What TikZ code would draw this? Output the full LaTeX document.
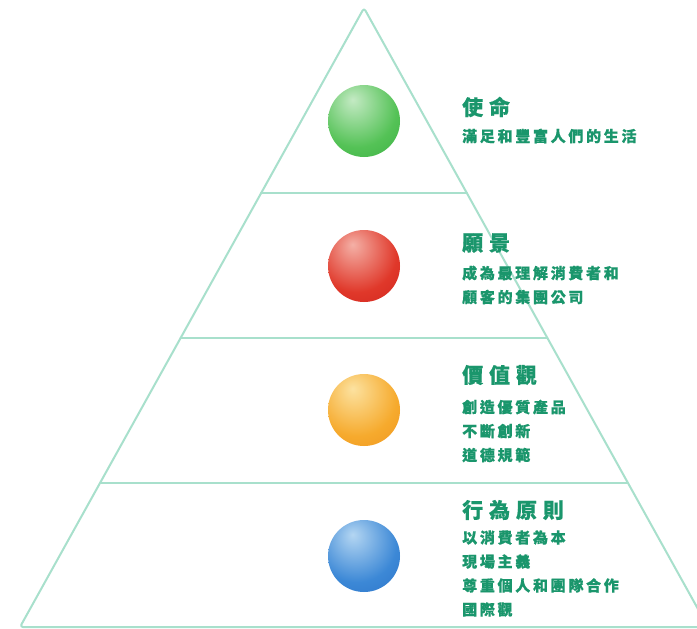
\documentclass[tikz,border=0pt]{standalone}
\usepackage{fontspec}
\newfontfamily\cjkttl[LetterSpace=28, BoldFeatures={FakeBold=0.5}]{Noto Sans CJK TC}
\newfontfamily\cjkbody[LetterSpace=18, BoldFeatures={FakeBold=0.6}]{Noto Sans CJK TC}
\usetikzlibrary{calc}
\definecolor{edgec}{RGB}{168,224,204}
\definecolor{txtc}{RGB}{26,150,108}
\definecolor{gHi}{RGB}{196,234,196}\definecolor{gMid}{RGB}{84,194,86}\definecolor{gEdge}{RGB}{36,158,50}
\definecolor{rHi}{RGB}{244,176,166}\definecolor{rMid}{RGB}{224,56,42}\definecolor{rEdge}{RGB}{192,18,18}
\definecolor{oHi}{RGB}{252,226,160}\definecolor{oMid}{RGB}{246,170,45}\definecolor{oEdge}{RGB}{232,128,18}
\definecolor{bHi}{RGB}{180,214,242}\definecolor{bMid}{RGB}{60,136,214}\definecolor{bEdge}{RGB}{28,96,188}
\pgfdeclareradialshading{sphgreen}{\pgfpoint{-8bp}{15bp}}{color(0bp)=(gHi); color(28bp)=(gMid); color(62bp)=(gEdge); color(80bp)=(gEdge)}
\pgfdeclareradialshading{sphred}{\pgfpoint{-8bp}{15bp}}{color(0bp)=(rHi); color(28bp)=(rMid); color(62bp)=(rEdge); color(80bp)=(rEdge)}
\pgfdeclareradialshading{sphorange}{\pgfpoint{-8bp}{15bp}}{color(0bp)=(oHi); color(28bp)=(oMid); color(62bp)=(oEdge); color(80bp)=(oEdge)}
\pgfdeclareradialshading{sphblue}{\pgfpoint{-8bp}{15bp}}{color(0bp)=(bHi); color(28bp)=(bMid); color(62bp)=(bEdge); color(80bp)=(bEdge)}
\tikzset{
  tier/.style={draw=edgec, line width=2pt, line cap=round},
  sphere/.style={circle, minimum size=72pt, inner sep=0pt, shade, shading=#1},
  ttl/.style={anchor=west, inner sep=0pt, text=txtc, font={\cjkttl\bfseries\fontsize{21}{24}\selectfont}},
  bodytxt/.style={anchor=west, inner sep=0pt, text=txtc, align=left, font={\cjkbody\bfseries\fontsize{15}{24}\selectfont}}
}
\begin{document}
\begin{tikzpicture}[x=1pt,y=-1pt]
\useasboundingbox (0,0) rectangle (697,629);
\fill[white] (0,0) rectangle (697,629);
\clip (0,0) rectangle (697,629);
\coordinate (apex) at (364,8);
\coordinate (bl) at (20,627);
\coordinate (br) at (708,627);
\draw[tier, rounded corners=3pt, line join=round] (apex) -- (bl) -- (br) -- cycle;
\coordinate (l1) at ($(apex)!0.2989!(bl)$); \coordinate (r1) at ($(apex)!0.2989!(br)$);
\coordinate (l2) at ($(apex)!0.5331!(bl)$); \coordinate (r2) at ($(apex)!0.5331!(br)$);
\coordinate (l3) at ($(apex)!0.7674!(bl)$); \coordinate (r3) at ($(apex)!0.7674!(br)$);
\draw[tier] (l1) -- (r1);
\draw[tier] (l2) -- (r2);
\draw[tier] (l3) -- (r3);
\node[sphere=sphgreen] (s1) at (364,121) {};
\node[sphere=sphred] (s2) at (364,266) {};
\node[sphere=sphorange] (s3) at (364,410) {};
\node[sphere=sphblue] (s4) at (364,556) {};
\node[ttl] (t1) at (462,107) {使命};
\node[bodytxt] (b1) at (462,136) {滿足和豐富人們的生活};
\node[ttl] (t2) at (462,243) {願景};
\node[bodytxt] (b2) at (462,285) {成為最理解消費者和\\顧客的集團公司};
\node[ttl] (t3) at (462,375) {價值觀};
\node[bodytxt] (b3) at (462,431) {創造優質產品\\不斷創新\\道德規範};
\node[ttl] (t4) at (462,510) {行為原則};
\node[bodytxt] (b4) at (462,573.5) {以消費者為本\\現場主義\\尊重個人和團隊合作\\國際觀};
\end{tikzpicture}
\end{document}
